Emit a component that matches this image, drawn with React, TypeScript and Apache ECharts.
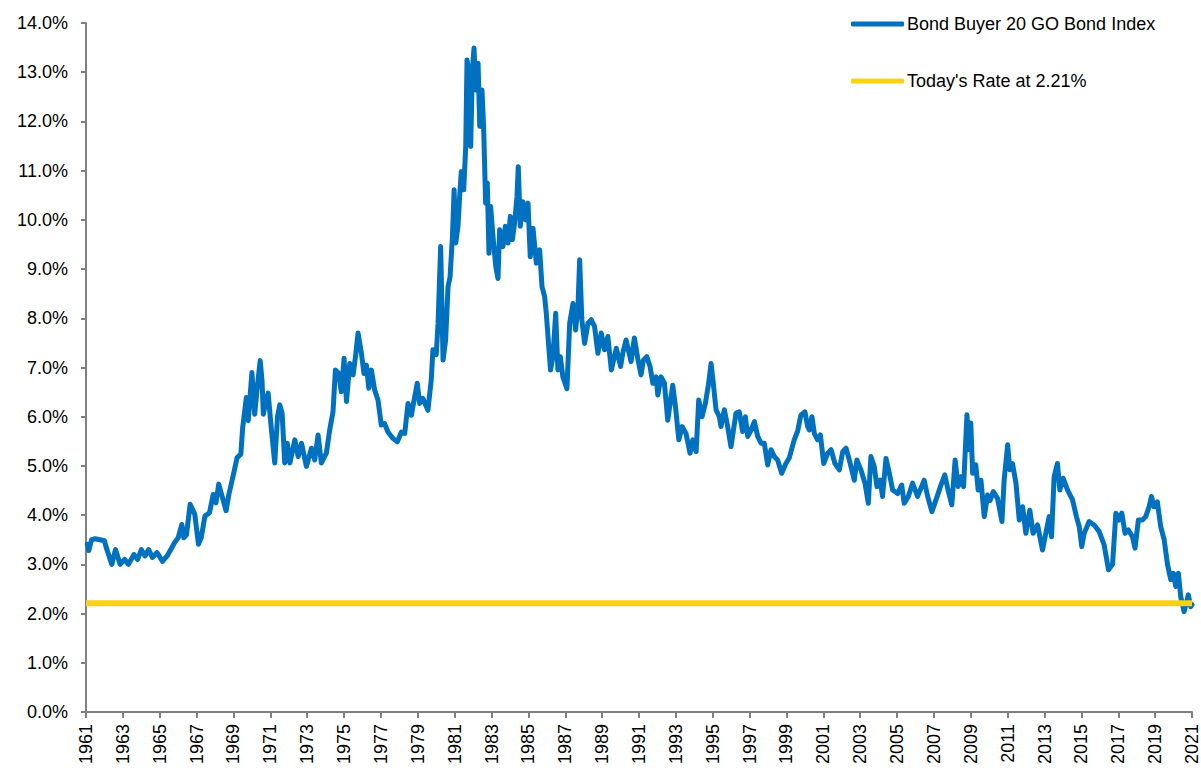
import React, { useEffect, useRef } from "react";
import * as echarts from "echarts";

const START_YEAR = 1961;
const END_YEAR = 2021;
const TODAY_RATE = 2.21;
const SERIES_INDEX = "Bond Buyer 20 GO Bond Index";
const SERIES_TODAY = "Today's Rate at 2.21%";

const years = [
  1961.07, 1961.15, 1961.3, 1961.5, 1961.75, 1962.0, 1962.1, 1962.4, 1962.6, 1962.85,
  1963.1, 1963.3, 1963.6, 1963.8, 1964.0, 1964.2, 1964.4, 1964.6, 1964.85, 1965.15,
  1965.4, 1965.6, 1965.8, 1966.0, 1966.2, 1966.3, 1966.45, 1966.65, 1966.9, 1967.1,
  1967.25, 1967.45, 1967.7, 1967.9, 1968.05, 1968.2, 1968.4, 1968.6, 1968.75, 1969.0,
  1969.2, 1969.4, 1969.5, 1969.7, 1969.8, 1970.0, 1970.15, 1970.3, 1970.45, 1970.55,
  1970.62, 1970.75, 1970.88, 1971.06, 1971.24, 1971.39, 1971.51, 1971.64, 1971.78, 1971.92,
  1972.06, 1972.33, 1972.51, 1972.69, 1972.96, 1973.23, 1973.41, 1973.59, 1973.77, 1974.04,
  1974.22, 1974.4, 1974.53, 1974.71, 1974.85, 1975.0, 1975.13, 1975.31, 1975.49, 1975.62,
  1975.76, 1975.94, 1976.08, 1976.21, 1976.34, 1976.48, 1976.66, 1976.84, 1977.02, 1977.2,
  1977.38, 1977.65, 1977.89, 1978.11, 1978.29, 1978.47, 1978.65, 1978.8, 1978.97, 1979.1,
  1979.28, 1979.55, 1979.73, 1979.82, 1980.0, 1980.1, 1980.24, 1980.37, 1980.51, 1980.64,
  1980.75, 1980.88, 1980.97, 1981.06, 1981.18, 1981.27, 1981.36, 1981.49, 1981.6, 1981.67,
  1981.78, 1981.87, 1981.96, 1982.05, 1982.14, 1982.27, 1982.36, 1982.48, 1982.57, 1982.68,
  1982.77, 1982.86, 1982.95, 1983.08, 1983.23, 1983.35, 1983.44, 1983.62, 1983.75, 1983.89,
  1984.02, 1984.13, 1984.25, 1984.38, 1984.45, 1984.56, 1984.7, 1984.85, 1984.98, 1985.1,
  1985.25, 1985.43, 1985.61, 1985.74, 1985.88, 1985.97, 1986.2, 1986.33, 1986.48, 1986.6,
  1986.73, 1986.87, 1987.09, 1987.24, 1987.42, 1987.56, 1987.69, 1987.78, 1987.9, 1988.05,
  1988.23, 1988.41, 1988.59, 1988.77, 1988.95, 1989.13, 1989.31, 1989.5, 1989.77, 1990.0,
  1990.12, 1990.3, 1990.57, 1990.75, 1990.93, 1991.11, 1991.24, 1991.42, 1991.6, 1991.75,
  1991.93, 1992.02, 1992.2, 1992.38, 1992.56, 1992.83, 1992.98, 1993.16, 1993.34, 1993.55,
  1993.77, 1993.92, 1994.1, 1994.24, 1994.42, 1994.6, 1994.78, 1994.91, 1995.03, 1995.18,
  1995.36, 1995.45, 1995.63, 1995.81, 1995.99, 1996.26, 1996.44, 1996.62, 1996.77, 1996.9,
  1997.08, 1997.26, 1997.44, 1997.62, 1997.8, 1997.98, 1998.16, 1998.34, 1998.52, 1998.74,
  1998.97, 1999.15, 1999.42, 1999.6, 1999.78, 2000.0, 2000.15, 2000.24, 2000.38, 2000.51,
  2000.69, 2000.84, 2001.02, 2001.24, 2001.42, 2001.63, 2001.87, 2002.05, 2002.23, 2002.41,
  2002.68, 2002.82, 2003.04, 2003.26, 2003.44, 2003.58, 2003.76, 2003.91, 2004.09, 2004.21,
  2004.4, 2004.58, 2004.76, 2005.03, 2005.25, 2005.39, 2005.61, 2005.84, 2006.11, 2006.33,
  2006.47, 2006.66, 2006.89, 2007.11, 2007.38, 2007.59, 2007.74, 2007.97, 2008.15, 2008.31,
  2008.46, 2008.61, 2008.79, 2008.91, 2009.0, 2009.1, 2009.27, 2009.4, 2009.55, 2009.73,
  2009.91, 2010.05, 2010.22, 2010.45, 2010.69, 2010.81, 2011.0, 2011.12, 2011.26, 2011.45,
  2011.63, 2011.81, 2011.99, 2012.2, 2012.38, 2012.62, 2012.89, 2013.07, 2013.25, 2013.38,
  2013.52, 2013.7, 2013.83, 2014.01, 2014.25, 2014.52, 2014.73, 2014.88, 2015.02, 2015.15,
  2015.42, 2015.69, 2015.96, 2016.23, 2016.47, 2016.69, 2016.87, 2017.05, 2017.19, 2017.37,
  2017.55, 2017.77, 2017.91, 2018.09, 2018.31, 2018.49, 2018.67, 2018.8, 2018.94, 2019.12,
  2019.3, 2019.49, 2019.67, 2019.85, 2019.99, 2020.12, 2020.26, 2020.39, 2020.57, 2020.69,
  2020.8, 2020.93, 2021.0,
];

const rates = [
  3.41, 3.28, 3.5, 3.52, 3.5, 3.48, 3.34, 3.0, 3.3, 3.0,
  3.1, 3.0, 3.2, 3.1, 3.3, 3.17, 3.3, 3.14, 3.24, 3.06,
  3.17, 3.3, 3.44, 3.54, 3.81, 3.54, 3.6, 4.22, 4.02, 3.41,
  3.54, 3.98, 4.05, 4.42, 4.25, 4.63, 4.36, 4.09, 4.42, 4.83,
  5.17, 5.24, 5.78, 6.39, 5.92, 6.9, 6.05, 6.63, 7.14, 6.73,
  6.05, 6.3, 6.48, 5.73, 5.06, 6.0, 6.24, 6.07, 5.06, 5.46,
  5.06, 5.53, 5.19, 5.46, 4.99, 5.36, 5.12, 5.63, 5.06, 5.26,
  5.73, 6.1, 6.95, 6.88, 6.51, 7.19, 6.31, 7.08, 6.85, 7.22,
  7.7, 7.29, 6.88, 7.05, 6.58, 6.95, 6.54, 6.34, 5.83, 5.86,
  5.69, 5.56, 5.49, 5.69, 5.66, 6.27, 6.03, 6.34, 6.68, 6.27,
  6.37, 6.13, 6.75, 7.36, 7.26, 7.9, 9.46, 7.15, 7.56, 8.64,
  8.84, 9.66, 10.61, 9.53, 9.87, 10.47, 10.98, 10.61, 11.49, 13.25,
  12.98, 11.49, 13.05, 13.49, 12.64, 13.18, 11.9, 12.64, 11.9, 10.34,
  10.75, 9.32, 10.27, 9.66, 9.05, 8.81, 9.8, 9.46, 9.87, 9.53,
  10.07, 9.6, 9.93, 10.47, 11.08, 9.87, 10.37, 10.0, 10.34, 9.25,
  9.83, 9.12, 9.39, 8.64, 8.44, 8.1, 6.95, 7.22, 8.1, 6.95,
  7.22, 6.81, 6.57, 7.9, 8.3, 7.76, 8.24, 9.19, 7.97, 7.49,
  7.9, 7.97, 7.83, 7.29, 7.7, 7.36, 7.63, 6.95, 7.39, 7.02,
  7.29, 7.56, 7.12, 7.6, 7.19, 6.85, 7.15, 7.22, 7.02, 6.68,
  6.81, 6.44, 6.81, 6.68, 5.93, 6.64, 6.2, 5.53, 5.8, 5.66,
  5.26, 5.53, 5.29, 6.34, 6.0, 6.27, 6.68, 7.08, 6.68, 6.14,
  6.0, 5.8, 6.14, 5.8, 5.39, 6.07, 6.1, 5.7, 6.0, 5.6,
  5.73, 5.9, 5.6, 5.46, 5.46, 5.02, 5.33, 5.19, 5.12, 4.85,
  5.05, 5.16, 5.53, 5.7, 6.03, 6.1, 5.8, 5.73, 6.0, 5.66,
  5.53, 5.63, 5.05, 5.26, 5.33, 5.05, 4.92, 5.29, 5.36, 5.12,
  4.71, 5.12, 4.92, 4.65, 4.24, 5.19, 4.99, 4.58, 4.71, 4.38,
  5.15, 4.85, 4.51, 4.44, 4.61, 4.24, 4.38, 4.65, 4.38, 4.58,
  4.71, 4.38, 4.07, 4.31, 4.61, 4.82, 4.55, 4.21, 5.12, 4.58,
  4.78, 4.58, 6.04, 5.33, 5.87, 4.85, 5.02, 4.51, 4.71, 3.97,
  4.41, 4.3, 4.48, 4.34, 3.87, 4.72, 5.43, 4.92, 5.05, 4.65,
  3.9, 4.17, 3.63, 4.1, 3.63, 3.8, 3.29, 3.63, 3.97, 3.56,
  4.78, 5.05, 4.51, 4.75, 4.51, 4.31, 3.97, 3.77, 3.36, 3.63,
  3.87, 3.8, 3.67, 3.4, 2.89, 3.0, 4.04, 3.9, 4.04, 3.63,
  3.7, 3.56, 3.33, 3.9, 3.9, 3.97, 4.17, 4.38, 4.17, 4.27,
  3.77, 3.5, 3.0, 2.69, 2.82, 2.55, 2.82, 2.34, 2.04, 2.21,
  2.38, 2.14, 2.18,
];

const FONT = "'Liberation Sans', Arial, sans-serif";
const TEXT_COLOR = "#000000";
const AXIS_COLOR = "#808080";
const BLUE = "#0070C0";
const YELLOW = "#FCD116";

export default function App() {
  const ref = useRef<HTMLDivElement>(null);

  useEffect(() => {
    document.body.style.margin = "0";
    if (!ref.current) return;
    const chart = echarts.init(ref.current, undefined, { renderer: "svg" });

    const indexData = years.map((y, i) => [y - START_YEAR, rates[i]]);
    const todayData = [
      [0, TODAY_RATE],
      [END_YEAR - START_YEAR, TODAY_RATE],
    ];

    chart.setOption({
      animation: false,
      backgroundColor: "#ffffff",
      textStyle: { fontFamily: FONT },
      grid: { left: 86, right: 8, top: 23, bottom: 56, containLabel: false },
      legend: {
        orient: "vertical",
        left: 846,
        top: 10,
        itemWidth: 53,
        itemHeight: 5,
        itemGap: 39,
        icon: "roundRect",
        textStyle: { fontFamily: FONT, fontSize: 18, color: TEXT_COLOR, padding: [0, 0, 0, -2] },
        data: [SERIES_INDEX, SERIES_TODAY],
      },
      xAxis: {
        type: "value",
        min: 0,
        max: END_YEAR - START_YEAR,
        interval: 2,
        axisLine: { show: true, onZero: false, lineStyle: { color: AXIS_COLOR, width: 2 } },
        axisTick: { show: true, length: 6, lineStyle: { color: AXIS_COLOR, width: 2 } },
        splitLine: { show: false },
        axisLabel: {
          rotate: 90,
          margin: 12,
          fontFamily: FONT,
          fontSize: 18,
          color: TEXT_COLOR,
          formatter: (v: number) => String(START_YEAR + Math.round(v)),
        },
      },
      yAxis: {
        type: "value",
        min: 0,
        max: 14,
        interval: 1,
        axisLine: { show: true, lineStyle: { color: AXIS_COLOR, width: 2 } },
        axisTick: { show: true, length: 5, lineStyle: { color: AXIS_COLOR, width: 2 } },
        splitLine: { show: false },
        axisLabel: {
          margin: 18,
          fontFamily: FONT,
          fontSize: 18,
          color: TEXT_COLOR,
          formatter: (v: number) => v.toFixed(1) + "%",
        },
      },
      series: [
        {
          name: SERIES_INDEX,
          type: "line",
          data: indexData,
          showSymbol: false,
          symbol: "none",
          color: BLUE,
          lineStyle: { color: BLUE, width: 5, join: "round", cap: "round" },
          itemStyle: { color: BLUE },
          z: 2,
        },
        {
          name: SERIES_TODAY,
          type: "line",
          data: todayData,
          showSymbol: false,
          symbol: "none",
          color: YELLOW,
          lineStyle: { color: YELLOW, width: 6 },
          itemStyle: { color: YELLOW },
          z: 3,
        },
      ],
    });

    return () => chart.dispose();
  }, []);

  return <div ref={ref} style={{ width: 1201, height: 768 }} />;
}
